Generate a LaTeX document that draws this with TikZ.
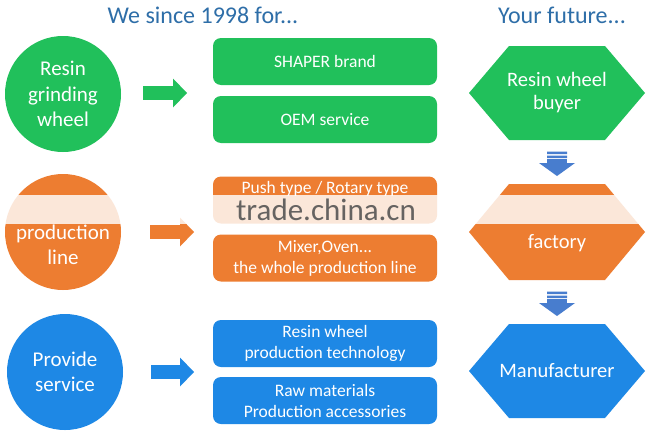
\documentclass[tikz,border=0pt]{standalone}
\usepackage{fontspec}
\setmainfont{Carlito}
\usetikzlibrary{arrows.meta}
\definecolor{shgreen}{RGB}{33,192,91}
\definecolor{shorange}{RGB}{237,125,49}
\definecolor{shblue}{RGB}{30,136,229}
\definecolor{downblue}{RGB}{72,125,206}
\definecolor{titleblue}{RGB}{46,110,168}

\begin{document}
\begin{tikzpicture}[
  x=1pt,y=-1pt,
  every node/.style={text=white,align=center,inner sep=0pt},
  disc/.style={circle,minimum size=116pt,font=\fontsize{21}{25.5}\selectfont},
  box/.style={rounded corners=8pt,minimum width=224pt,minimum height=47pt,font=\fontsize{17.5}{21}\selectfont},
  hexa/.style={font=\fontsize{20.5}{23}\selectfont},
  title/.style={text=titleblue,font=\fontsize{24}{28}\selectfont},
  blockarrow/.style={line width=14pt,-{Triangle[length=14pt,width=29pt,line width=0pt]}},
  downarrow/.style={downblue,line width=20pt,-{Triangle[length=13pt,width=36pt,line width=0pt]}}
]
  \useasboundingbox[fill=white] (0,0) rectangle (650,439);

  \node[title] (we) at (203,15) {We since 1998 for...};
  \node[title] (future) at (562,15) {Your future...};

  % left column
  \node[disc,fill=shgreen] (resin) at (63,94) {Resin\\grinding\\wheel};
  \node[disc,fill=shorange] (line) at (63,232) {};
  \node[text=white,font=\fontsize{21}{25.5}\selectfont] (linetext) at (63,245) {production\\line};
  \node[disc,fill=shblue] (service) at (65,372) {Provide\\service};

  % middle column
  \node[box,fill=shgreen] (brand) at (325,61.5) {SHAPER brand};
  \node[box,fill=shgreen] (oem) at (325,119.5) {OEM service};
  \node[box,fill=shorange] (push) at (325,200) {};
  \node[text=white,font=\fontsize{17.5}{21}\selectfont] (pushtext) at (325,189) {Push type / Rotary type};
  \node[box,fill=shorange] (mixer) at (325,258) {Mixer,Oven...\\the whole production line};
  \node[box,fill=shblue] (tech) at (325,343.5) {Resin wheel\\production technology};
  \node[box,fill=shblue] (raw) at (325,400.5) {Raw materials\\Production accessories};

  % right column
  \coordinate (buyer) at (557,93);
  \coordinate (factory) at (557,232);
  \coordinate (maker) at (557,371);
  \fill[shgreen] (buyer) ++(-88,0) -- ++(40,-47) -- ++(96,0) -- ++(40,47) -- ++(-40,47) -- ++(-96,0) -- cycle;
  \fill[shorange] (factory) ++(-88,0) -- ++(40,-48) -- ++(96,0) -- ++(40,48) -- ++(-40,48) -- ++(-96,0) -- cycle;
  \fill[shblue] (maker) ++(-88,0) -- ++(40,-47) -- ++(96,0) -- ++(40,47) -- ++(-40,47) -- ++(-96,0) -- cycle;
  \node[hexa] (buyertext) at (buyer) {Resin wheel\\buyer};
  \node[hexa] (factorytext) at (557,243) {factory};
  \node[hexa] (makertext) at (maker) {Manufacturer};

  % arrows
  \coordinate (g1) at (143,93);  \coordinate (g2) at (187,93);
  \coordinate (o1) at (150,232); \coordinate (o2) at (194,232);
  \coordinate (b1) at (151,372); \coordinate (b2) at (194,372);
  \draw[blockarrow,shgreen] (g1) -- (g2);
  \draw[blockarrow,shorange] (o1) -- (o2);
  \draw[blockarrow,shblue] (b1) -- (b2);

  \coordinate (d1) at (557,159); \coordinate (d2) at (557,176);
  \coordinate (d3) at (557,299); \coordinate (d4) at (557,316);
  \fill[downblue] (547,151.5) rectangle (567,154) (547,155.5) rectangle (567,158);
  \fill[downblue] (547,291.5) rectangle (567,294) (547,295.5) rectangle (567,298);
  \draw[downarrow] (d1) -- (d2);
  \draw[downarrow] (d3) -- (d4);

  % watermark band
  \fill[white,opacity=.82] (0,195) rectangle (650,224);
  \node[text=gray!60!black,opacity=.85,font=\fontsize{31}{31}\selectfont] (mark) at (326,210) {trade.china.cn};
\end{tikzpicture}
\end{document}
